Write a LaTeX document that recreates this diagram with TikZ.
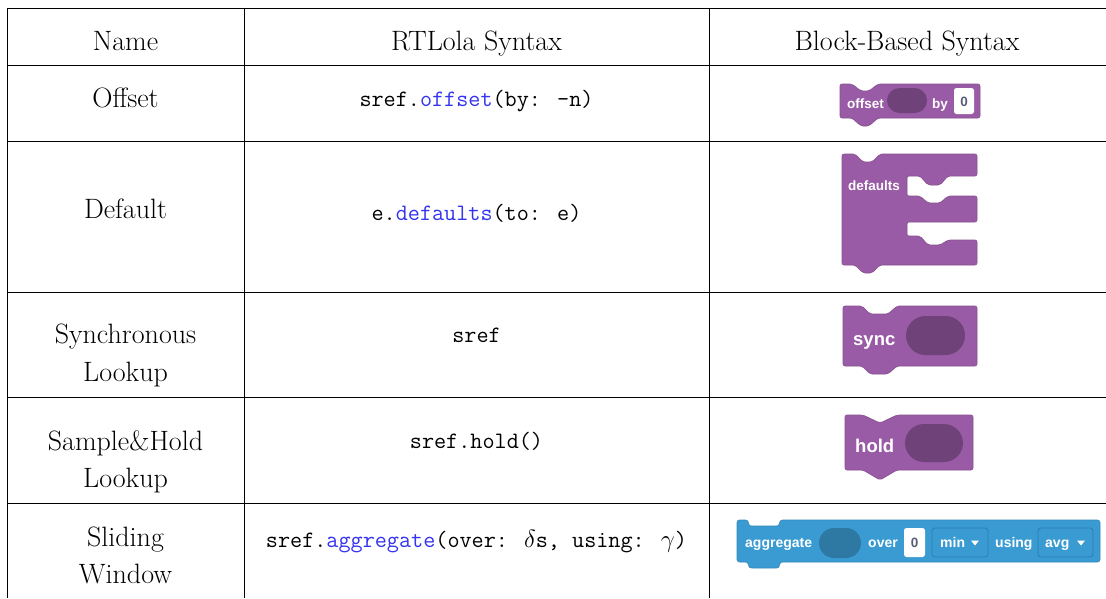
\documentclass[tikz,border=0pt]{standalone}
\usepackage{fontspec}
\newfontfamily\blockfont{Liberation Sans}
\usepackage{xcolor}
\definecolor{kw}{HTML}{3434F0}
\definecolor{bpurple}{HTML}{995BA5}
\definecolor{bpurpleedge}{HTML}{86508F}
\definecolor{bpurpledark}{HTML}{70427A}
\definecolor{bblue}{HTML}{3A9BD3}
\definecolor{bblueedge}{HTML}{3288BB}
\definecolor{bbluedark}{HTML}{2D79A4}
\definecolor{ddedge}{HTML}{2D7DAE}
\definecolor{numtxt}{HTML}{575E75}
\begin{document}
\begin{tikzpicture}[x=1pt,y=-1pt,
  hd/.style={font=\fontsize{28}{34}\selectfont, anchor=base, inner sep=0pt},
  cd/.style={font=\fontsize{23.5}{28}\selectfont\ttfamily, anchor=base, inner sep=0pt},
  bt/.style={font=\blockfont\bfseries\fontsize{13.5}{16}\selectfont, text=white, anchor=base west, inner sep=0pt},
  btbig/.style={bt, font=\blockfont\bfseries\fontsize{18.5}{22}\selectfont},
  btagg/.style={bt, font=\blockfont\bfseries\fontsize{14}{16}\selectfont},
  numtext/.style={font=\blockfont\bfseries\fontsize{13.5}{16}\selectfont, text=numtxt, anchor=base, inner sep=0pt},
  grid/.style={line width=1pt, black},
  pblock/.style={fill=bpurple, draw=bpurpleedge, line width=0.6pt, rounded corners=2pt},
  bblock/.style={fill=bblue, draw=bblueedge, line width=0.6pt, rounded corners=2.5pt},
  pslot/.style={fill=bpurpledark},
  bslot/.style={fill=bbluedark},
  numbox/.style={fill=white, rounded corners=2.5pt},
  ddbox/.style={draw=ddedge, line width=0.8pt, rounded corners=3pt},
  tri/.style={fill=white}
]
\useasboundingbox (0,0) rectangle (1106,598);
\fill[white] (0,0) rectangle (1106,598);

% table grid
\foreach \yy in {8,65,141,292,397,503} \draw[grid] (7,\yy) -- (1106,\yy);
\foreach \xx in {7,244,709} \draw[grid] (\xx,8) -- (\xx,598);

% header
\node[hd] (hname) at (125.5,50) {Name};
\node[hd] (hrt) at (476.5,50) {RTLola Syntax};
\node[hd] (hbb) at (907,50) {Block-Based Syntax};

% names
\node[hd] (n1) at (125.5,107) {Offset};
\node[hd] (n2) at (125.5,218) {Default};
\node[hd] (n3a) at (125.5,343) {Synchronous};
\node[hd] (n3b) at (125.5,381) {Lookup};
\node[hd] (n4a) at (125.5,450) {Sample\&Hold};
\node[hd] (n4b) at (125.5,487) {Lookup};
\node[hd] (n5a) at (125.5,546) {Sliding};
\node[hd] (n5b) at (125.5,583) {Window};

% code
\node[cd] (c1) at (476.5,106) {sref.\textcolor{kw}{offset}(by: -n)};
\node[cd] (c2) at (476.5,220) {e.\textcolor{kw}{defaults}(to: e)};
\node[cd] (c3) at (476.5,342) {sref};
\node[cd] (c4) at (476.5,448) {sref.hold()};
\node[cd] (c5) at (476.5,547) {sref.\textcolor{kw}{aggregate}(over: $\delta$s, using: $\gamma$)};

% ---- offset block
\draw[pblock] (840,84) -- (852,84) -- (861,91) -- (869,91) -- (878,84) -- (980,84)
  -- (980,118) -- (878,118) -- (869,126) -- (861,126) -- (852,118) -- (840,118) -- cycle;
\fill[pslot, rounded corners=12.5pt] (887,88) rectangle (927,113);
\fill[numbox] (954,88) rectangle (974,114);
\node[bt] (t1a) at (847,108) {offset};
\node[bt] (t1b) at (932,108) {by};
\node[numtext] (t1c) at (964,106) {0};

% ---- defaults block
\draw[pblock] (842,154) -- (855,154) -- (863,162) -- (872,162) -- (880,154) -- (977,154)
  -- (977,176) -- (948,176) -- (940,185) -- (928,185) -- (920,176) -- (907,176)
  -- (907,196) -- (920,196) -- (928,203) -- (940,203) -- (948,196) -- (977,196)
  -- (977,222) -- (907,222) -- (907,236) -- (920,236) -- (928,245) -- (940,245)
  -- (948,240) -- (977,240) -- (977,265) -- (880,265) -- (872,273) -- (863,273)
  -- (855,265) -- (842,265) -- cycle;
\node[bt] (t2) at (848,190) {defaults};

% ---- sync block
\draw[pblock] (843,306) -- (862,306) -- (870,314) -- (888,314) -- (897,306) -- (977,306)
  -- (977,366) -- (897,366) -- (888,374) -- (870,374) -- (862,366) -- (843,366) -- cycle;
\fill[pslot, rounded corners=19.5pt] (906,316) rectangle (965,355);
\node[btbig] (t3) at (853,345) {sync};

% ---- hold block
\draw[pblock] (845,415) -- (863,415) -- (880,423) -- (897,415) -- (973,415)
  -- (973,470) -- (897,470) -- (880,480) -- (863,470) -- (845,470) -- cycle;
\fill[pslot, rounded corners=19pt] (905,424) rectangle (963,462);
\node[btbig] (t4) at (855,452) {hold};

% ---- aggregate block
\draw[bblock] (737,520) -- (748,520) .. controls (749,526) and (750,526) .. (756,526)
  -- (772,526) .. controls (778,526) and (779,526) .. (780,520)
  -- (1100,520) -- (1100,562) -- (780,562) .. controls (779,568) and (778,568) .. (772,568)
  -- (756,568) .. controls (750,568) and (749,568) .. (748,562)
  -- (737,562) -- cycle;
\fill[bslot, rounded corners=15pt] (819,528) rectangle (861,558);
\fill[numbox] (904,528) rectangle (925,557);
\draw[ddbox] (932,528) rectangle (988,557);
\draw[ddbox] (1038,528) rectangle (1093,557);
\fill[tri] (971,540.5) -- (979,540.5) -- (975,545.5) -- cycle;
\fill[tri] (1077,540.5) -- (1085,540.5) -- (1081,545.5) -- cycle;
\node[btagg] (t5a) at (745,547) {aggregate};
\node[btagg] (t5b) at (868,547) {over};
\node[numtext] (t5c) at (914.5,547) {0};
\node[btagg] (t5d) at (940,547) {min};
\node[btagg] (t5e) at (995,547) {using};
\node[btagg] (t5f) at (1045,547) {avg};
\end{tikzpicture}
\end{document}
